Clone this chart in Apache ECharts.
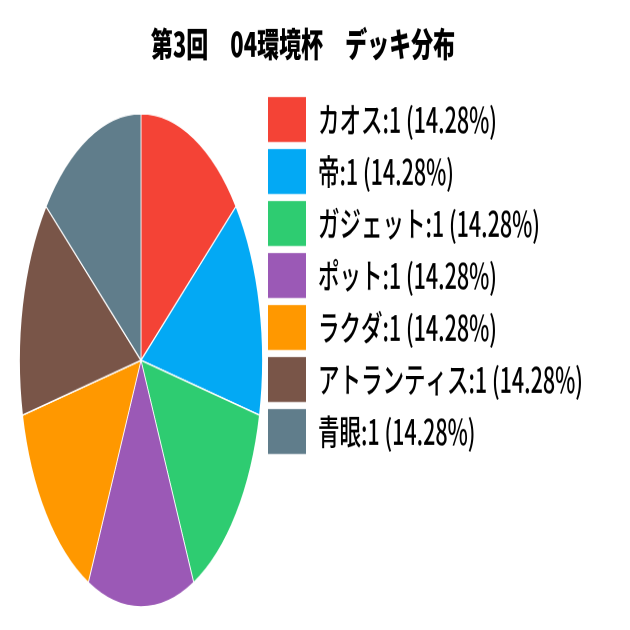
<!DOCTYPE html>
<html>
<head>
<meta charset="utf-8">
<title>デッキ分布</title>
<script src="https://cdn.jsdelivr.net/npm/echarts@6/dist/echarts.min.js"></script>
<style>
  html, body { margin: 0; padding: 0; background: #fff; overflow: hidden; }
  .box { position: absolute; left: 0; top: 0; width: 630px; transform-origin: 0 0; }
  /* the reference is stretched vertically: the pie more than the text */
  #pie { height: 310.34px; transform: scaleY(2.03); }
  #text { height: 393.75px; transform: scaleY(1.6); }
</style>
</head>
<body>
<div id="pie" class="box"></div>
<div id="text" class="box"></div>
<script>
const titleText = '第3回　04環境杯　デッキ分布'
const deckNames = ['カオス', '帝', 'ガジェット', 'ポット', 'ラクダ', 'アトランティス', '青眼']
const deckCounts = [1, 1, 1, 1, 1, 1, 1]
const deckColors = ['#f44336', '#03a9f4', '#2ecc71', '#9b59b6', '#ff9800', '#795548', '#607d8b']

const fontName = '"Noto Sans CJK JP", "Noto Sans", sans-serif'
const total = deckCounts.reduce((a, b) => a + b, 0)
const pieData = deckNames.map((name, i) => ({ name, value: deckCounts[i] }))

// 14.28 in the picture: the percent is cut, not rounded
function percentOf(v) {
  return (Math.floor((v / total) * 10000) / 100).toFixed(2)
}

// pie chart (drawn alone, squeezed to an ellipse by css)
const pieChart = echarts.init(document.getElementById('pie'), null, { devicePixelRatio: 2 })
pieChart.setOption({
  animation: false,
  color: deckColors,
  series: [
    {
      type: 'pie',
      center: [141, 177.5],
      radius: [0, 121.5],
      startAngle: 90,
      clockwise: true,
      silent: true,
      label: { show: false },
      labelLine: { show: false },
      itemStyle: { borderColor: '#fff', borderWidth: 0.8 },
      data: pieData
    }
  ]
})

// title + legend
const textChart = echarts.init(document.getElementById('text'), null, { devicePixelRatio: 2 })
textChart.setOption({
  animation: false,
  color: deckColors,
  graphic: [
    {
      type: 'text',
      x: 303,
      y: 27.6,
      scaleY: 0.95,
      style: {
        text: titleText,
        font: '900 22px ' + fontName,
        fill: '#000',
        textAlign: 'center',
        textVerticalAlign: 'middle'
      }
    }
  ],
  legend: {
    orient: 'vertical',
    left: 268,
    top: 60.6,
    padding: 0,
    icon: 'rect',
    itemWidth: 38,
    itemHeight: 28.1,
    itemGap: 4.4,
    selectedMode: false,
    textStyle: {
      fontFamily: fontName,
      fontSize: 21.5,
      fontWeight: 500,
      color: '#000',
      padding: [11, 0, 0, 7]
    },
    formatter: function (name) {
      const i = deckNames.indexOf(name)
      return name + ':' + deckCounts[i] + ' (' + percentOf(deckCounts[i]) + '%)'
    },
    data: deckNames
  },
  series: [
    {
      // only feeds the legend its names and colours
      type: 'pie',
      center: [-100, -100],
      radius: [0, 1],
      silent: true,
      label: { show: false },
      data: pieData
    }
  ]
})
</script>
</body>
</html>
